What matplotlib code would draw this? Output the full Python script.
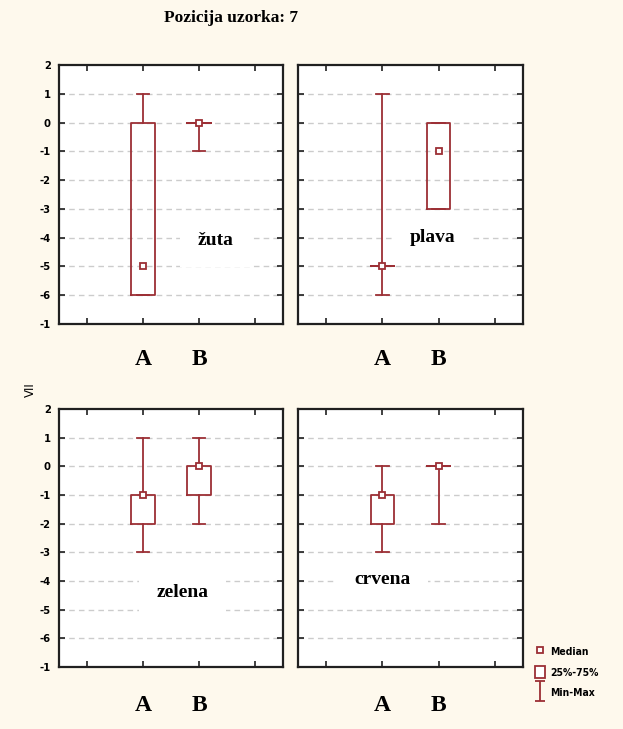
import matplotlib
matplotlib.use("Agg")
import matplotlib.pyplot as plt
from matplotlib.lines import Line2D
from matplotlib.patches import Patch
from matplotlib.path import Path

# ---- data ----
title = "Pozicija uzorka: 7"
panels = ["žuta", "plava", "zelena", "crvena"]
groups = ["A", "B"]
# per panel, per group: min, q1, median, q3, max
mins = {"žuta": [-6, -1], "plava": [-6, -3], "zelena": [-3, -2], "crvena": [-3, -2]}
q1s = {"žuta": [-6, 0], "plava": [-5, -3], "zelena": [-2, -1], "crvena": [-2, 0]}
medians = {"žuta": [-5, 0], "plava": [-5, -1], "zelena": [-1, 0], "crvena": [-1, 0]}
q3s = {"žuta": [0, 0], "plava": [-5, 0], "zelena": [-1, 0], "crvena": [-1, 0]}
maxs = {"žuta": [1, 0], "plava": [1, 0], "zelena": [1, 1], "crvena": [0, 0]}
label_pos = {"žuta": (2.3, -4.1), "plava": (1.9, -4.0), "zelena": (1.7, -4.4), "crvena": (1.0, -3.95)}
ytick_vals = [2, 1, 0, -1, -2, -3, -4, -5, -6, -7]
ytick_labels = ["2", "1", "0", "-1", "-2", "-3", "-4", "-5", "-6", "-1"]
y_label = "VII"
legend_labels = ["Median", "25%-75%", "Min-Max"]

RED = "#9c2f35"
BG = "#fef9ed"

fig = plt.figure(figsize=(6.23, 7.29), dpi=100, facecolor=BG)
W, H = 623, 729
boxes_px = {
    "žuta": (59, 65, 283, 324),
    "plava": (298, 65, 523, 324),
    "zelena": (59, 409, 283, 667),
    "crvena": (298, 409, 523, 667),
}

for i, name in enumerate(panels):
    x0, y0, x1, y1 = boxes_px[name]
    ax = fig.add_axes([x0 / W, 1 - y1 / H, (x1 - x0) / W, (y1 - y0) / H])
    ax.set_facecolor("white")
    ax.set_xlim(-0.5, 3.5)
    ax.set_ylim(-7, 2)
    for s in ax.spines.values():
        s.set_linewidth(1.6)
        s.set_color("#202020")
    # grid
    for v in ytick_vals[1:-1]:
        ax.axhline(v, color="#cccccc", lw=1.0, ls=(0, (4, 3)), zorder=0.5)
    stats = []
    for g in range(2):
        stats.append(dict(med=medians[name][g], q1=q1s[name][g], q3=q3s[name][g],
                          whislo=mins[name][g], whishi=maxs[name][g], fliers=[]))
    ax.bxp(stats, positions=[1, 2], widths=0.42, capwidths=0.22, showfliers=False,
           manage_ticks=False,
           boxprops=dict(color=RED, lw=1.3),
           whiskerprops=dict(color=RED, lw=1.3),
           capprops=dict(color=RED, lw=1.3),
           medianprops=dict(lw=0, color=RED), zorder=3)
    ax.plot([1, 2], medians[name], ls="none", marker="s", ms=4.3, mfc="white",
            mec=RED, mew=1.3, zorder=4)
    lx, ly = label_pos[name]
    ax.text(lx, ly, name, ha="center", va="center", fontsize=14, fontweight="bold",
            family="Liberation Serif", zorder=2,
            bbox=dict(facecolor="white", edgecolor="none", boxstyle="square,pad=0.9"))
    ax.set_xticks([0, 1, 2, 3])
    ax.set_xticklabels(["", groups[0], groups[1], ""], fontsize=17, fontweight="bold",
                       family="Liberation Serif")
    ax.set_yticks(ytick_vals)
    ax.tick_params(direction="in", length=4, width=1.2, top=True, right=True,
                   color="#202020")
    ax.tick_params(axis="x", pad=18 if i < 2 else 20)
    if i % 2 == 0:
        ax.set_yticklabels(ytick_labels, fontsize=8, fontweight="bold",
                           family="DejaVu Sans", fontstretch="condensed")
        ax.tick_params(axis="y", pad=6)
    else:
        ax.set_yticklabels([])

fig.text(231 / W, 1 - 18 / H, title, ha="center", va="center", fontsize=12.5,
         fontweight="bold", family="Liberation Serif")
fig.text(30 / W, 1 - 390 / H, y_label, ha="center", va="center", rotation=90,
         fontsize=8.5)

ipath = Path([(-0.5, 1), (0.5, 1), (0, 1), (0, -1), (-0.5, -1), (0.5, -1)],
             [Path.MOVETO, Path.LINETO, Path.MOVETO, Path.LINETO, Path.MOVETO, Path.LINETO])
handles = [
    Line2D([], [], ls="none", marker="s", ms=4.3, mfc="white", mec=RED, mew=1.3),
    Patch(facecolor="white", edgecolor=RED, lw=1.3),
    Line2D([], [], ls="none", marker=ipath, ms=15, mec=RED, mew=1.3),
]
fig.legend(handles, legend_labels, loc="upper left",
           bbox_to_anchor=(530 / W, 1 - 640 / H), frameon=False,
           handlelength=0.9, handleheight=1.5, handletextpad=0.5, labelspacing=0.75,
           borderpad=0,
           prop=dict(family="DejaVu Sans", weight="bold", size=7.5, stretch="condensed"))

fig.savefig("out.png", dpi=100, facecolor=BG)
